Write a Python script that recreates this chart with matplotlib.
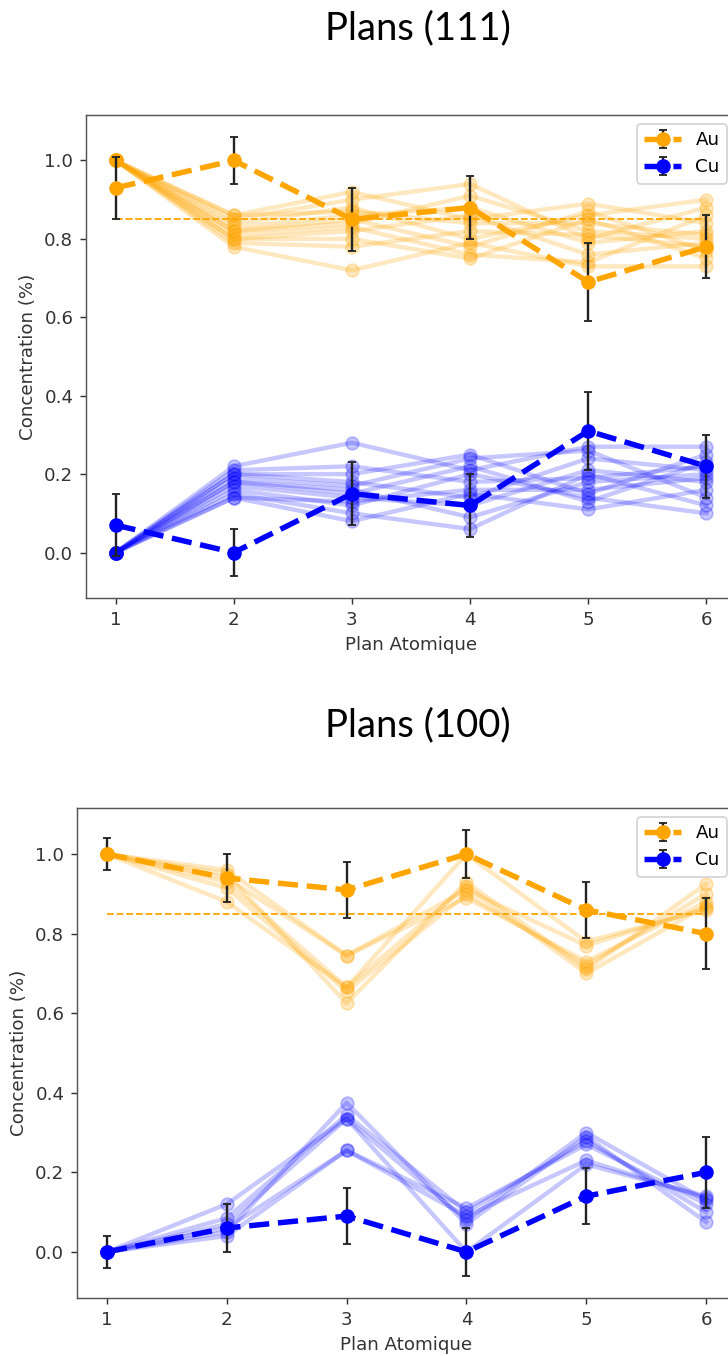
import matplotlib
matplotlib.use("Agg")
import matplotlib.pyplot as plt

# atomic plane index
planes = [1, 2, 3, 4, 5, 6]

# ---- Plans (111) ----
au_mean_111 = [0.93, 1.00, 0.85, 0.88, 0.69, 0.78]
au_err_111 = [0.08, 0.06, 0.08, 0.08, 0.10, 0.08]
cu_mean_111 = [0.07, 0.00, 0.15, 0.12, 0.31, 0.22]
cu_err_111 = [0.08, 0.06, 0.08, 0.08, 0.10, 0.08]

au_runs_111 = [
    [1.0, 0.86, 0.92, 0.85, 0.89, 0.84],
    [1.0, 0.85, 0.90, 0.94, 0.80, 0.88],
    [1.0, 0.84, 0.88, 0.80, 0.86, 0.90],
    [1.0, 0.83, 0.86, 0.88, 0.79, 0.82],
    [1.0, 0.82, 0.85, 0.78, 0.87, 0.77],
    [1.0, 0.82, 0.84, 0.91, 0.82, 0.80],
    [1.0, 0.81, 0.83, 0.76, 0.74, 0.86],
    [1.0, 0.80, 0.82, 0.86, 0.76, 0.79],
    [1.0, 0.80, 0.80, 0.75, 0.85, 0.75],
    [1.0, 0.79, 0.78, 0.82, 0.81, 0.78],
    [1.0, 0.78, 0.72, 0.79, 0.73, 0.73],
    [1.0, 0.86, 0.87, 0.84, 0.84, 0.81],
]
cu_runs_111 = [
    [0.0, 0.14, 0.08, 0.15, 0.11, 0.16],
    [0.0, 0.15, 0.10, 0.06, 0.20, 0.12],
    [0.0, 0.16, 0.12, 0.20, 0.14, 0.10],
    [0.0, 0.17, 0.14, 0.12, 0.21, 0.18],
    [0.0, 0.18, 0.15, 0.22, 0.13, 0.23],
    [0.0, 0.18, 0.16, 0.09, 0.18, 0.20],
    [0.0, 0.19, 0.17, 0.24, 0.26, 0.14],
    [0.0, 0.20, 0.18, 0.14, 0.24, 0.21],
    [0.0, 0.20, 0.20, 0.25, 0.15, 0.25],
    [0.0, 0.21, 0.22, 0.18, 0.19, 0.22],
    [0.0, 0.22, 0.28, 0.21, 0.27, 0.27],
    [0.0, 0.14, 0.13, 0.16, 0.16, 0.19],
]

# ---- Plans (100) ----
au_mean_100 = [1.00, 0.94, 0.91, 1.00, 0.86, 0.80]
au_err_100 = [0.04, 0.06, 0.07, 0.06, 0.07, 0.09]
cu_mean_100 = [0.00, 0.06, 0.09, 0.00, 0.14, 0.20]
cu_err_100 = [0.04, 0.06, 0.07, 0.06, 0.07, 0.09]

au_runs_100 = [
    [1.0, 0.96, 0.745, 0.91, 0.77, 0.865],
    [1.0, 0.93, 0.665, 0.92, 0.70, 0.87],
    [1.0, 0.915, 0.655, 0.90, 0.72, 0.90],
    [1.0, 0.95, 0.625, 0.93, 0.71, 0.925],
    [1.0, 0.88, 0.665, 1.00, 0.78, 0.86],
    [1.0, 0.94, 0.745, 0.89, 0.73, 0.88],
]
cu_runs_100 = [
    [0.0, 0.04, 0.255, 0.09, 0.23, 0.135],
    [0.0, 0.07, 0.335, 0.08, 0.30, 0.13],
    [0.0, 0.085, 0.345, 0.10, 0.28, 0.10],
    [0.0, 0.05, 0.375, 0.07, 0.29, 0.075],
    [0.0, 0.12, 0.335, 0.00, 0.22, 0.14],
    [0.0, 0.06, 0.255, 0.11, 0.27, 0.12],
]

nominal_au = 0.85

txt = '#333333'
plt.rcParams['xtick.color'] = txt
plt.rcParams['ytick.color'] = txt
plt.rcParams['xtick.labelcolor'] = txt
plt.rcParams['ytick.labelcolor'] = txt
plt.rcParams['axes.edgecolor'] = '#555555'
plt.rcParams['axes.labelcolor'] = txt


def draw_panel(ax, au_runs, cu_runs, au_mean, au_err, cu_mean, cu_err):
    for r in au_runs:
        ax.plot(planes, r, 'o-', color='orange', alpha=0.25, lw=2.4, ms=7)
    for r in cu_runs:
        ax.plot(planes, r, 'o-', color='blue', alpha=0.22, lw=2.4, ms=7)
    ax.plot([planes[0], planes[-1]], [nominal_au, nominal_au], '--', color='orange', lw=1)
    ax.errorbar(planes, au_mean, yerr=au_err, fmt='o--', color='orange', ecolor='#222222',
                lw=3, ms=7, capsize=2, elinewidth=1.3, label='Au')
    ax.errorbar(planes, cu_mean, yerr=cu_err, fmt='o--', color='blue', ecolor='#222222',
                lw=3, ms=7, capsize=2, elinewidth=1.3, label='Cu')
    ax.set_xlabel('Plan Atomique')
    ax.set_ylabel('Concentration (%)')
    ax.legend(loc='upper right')


fig = plt.figure(figsize=(728 / 131, 1356 / 131), dpi=131)

ax1 = fig.add_axes([86 / 728, 1 - 598 / 1356, 650 / 728, 483 / 1356])
draw_panel(ax1, au_runs_111, cu_runs_111, au_mean_111, au_err_111, cu_mean_111, cu_err_111)

ax2 = fig.add_axes([77 / 728, 1 - 1298 / 1356, 659 / 728, 490 / 1356])
draw_panel(ax2, au_runs_100, cu_runs_100, au_mean_100, au_err_100, cu_mean_100, cu_err_100)

fig.text(418 / 728, 1 - 28 / 1356, 'Plans (111)', ha='center', va='center',
         fontsize=21, family=['Lato', 'DejaVu Sans'])
fig.text(418 / 728, 1 - 725 / 1356, 'Plans (100)', ha='center', va='center',
         fontsize=21, family=['Lato', 'DejaVu Sans'])

fig.savefig('out.png', dpi=131)
